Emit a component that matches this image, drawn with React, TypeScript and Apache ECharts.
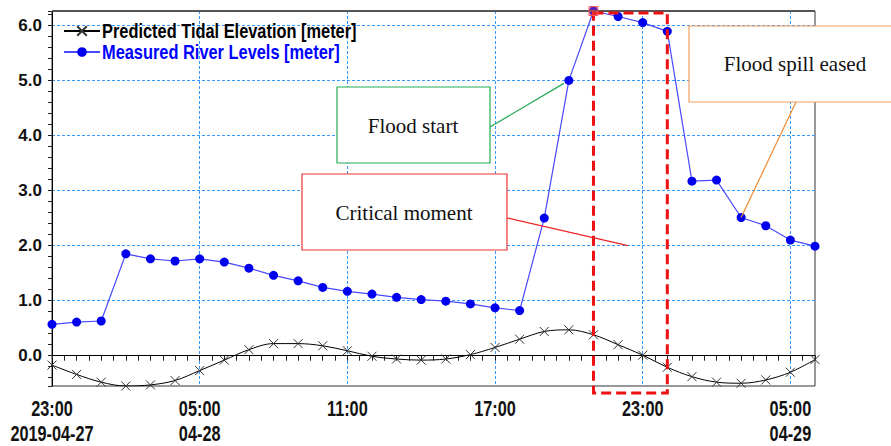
import React, { useEffect, useRef } from "react";
import * as echarts from "echarts";

// Hourly time stamps: 2019-04-27 23:00 ... 2019-04-29 06:00
const timeLabels = [
  "23:00",
  "00:00", "01:00", "02:00", "03:00", "04:00", "05:00", "06:00", "07:00",
  "08:00", "09:00", "10:00", "11:00", "12:00", "13:00", "14:00", "15:00",
  "16:00", "17:00", "18:00", "19:00", "20:00", "21:00", "22:00", "23:00",
  "00:00", "01:00", "02:00", "03:00", "04:00", "05:00", "06:00",
];
// Date line for the labelled ticks (every 6 hours)
const tickDates = ["2019-04-27", "04-28", "", "", "", "04-29"];
const LABEL_STEP = 6;

const measuredRiver = [
  0.57, 0.61, 0.63, 1.85, 1.76, 1.72, 1.76, 1.70, 1.59, 1.46, 1.36, 1.24,
  1.17, 1.12, 1.06, 1.02, 0.99, 0.94, 0.87, 0.82, 2.50, 5.00, 6.26, 6.16,
  6.05, 5.89, 3.17, 3.19, 2.51, 2.36, 2.10, 1.99,
];
const predictedTide = [
  -0.17, -0.34, -0.48, -0.55, -0.53, -0.45, -0.27, -0.08, 0.11, 0.22, 0.22,
  0.18, 0.09, -0.01, -0.06, -0.08, -0.06, 0.02, 0.15, 0.30, 0.44, 0.47, 0.38,
  0.20, 0.01, -0.21, -0.38, -0.48, -0.50, -0.44, -0.30, -0.07,
];

const seriesNames = [
  "Predicted Tidal Elevation [meter]",
  "Measured River Levels [meter]",
];
const seriesTextColors = ["#000000", "#0000ff"];
const annotations = ["Flood start", "Critical moment", "Flood spill eased"];
// indices of the hours the annotations refer to
const floodStartIdx = 21;
const spillEasedIdx = 28;
const criticalStartIdx = 22;
const criticalEndIdx = 25;

const Y_MIN = -0.55;
const Y_MAX = 6.26;

const SANS = '"Liberation Sans", Arial, sans-serif';
const SERIF = '"Liberation Serif", "Times New Roman", serif';

export default function App() {
  const ref = useRef<HTMLDivElement>(null);

  useEffect(() => {
    if (!ref.current) return;
    const chart = echarts.init(ref.current, undefined, { renderer: "svg" });
    const n = timeLabels.length;
    const xMax = n - 1;

    const gridColor = "#3399ff";

    chart.setOption({
      animation: false,
      backgroundColor: "#ffffff",
      grid: {
        left: 52,
        top: 11,
        right: 76,
        bottom: 60,
        show: true,
        borderColor: "#333",
        borderWidth: 1,
        backgroundColor: "transparent",
      },
      legend: {
        orient: "vertical",
        left: 63,
        top: 21,
        padding: 0,
        itemGap: 1,
        itemWidth: 36,
        itemHeight: 12,
        data: seriesNames,
        formatter: () => " ",
        textStyle: { fontSize: 20, lineHeight: 20 },
      },
      xAxis: [
        {
          type: "value",
          min: 0,
          max: xMax,
          interval: 0.5,
          position: "bottom",
          axisLine: { show: true, lineStyle: { color: "#000", width: 1 } },
          axisTick: { show: true, length: 5, lineStyle: { color: "#222" } },
          axisLabel: { show: false },
          splitLine: { show: false },
        },
        {
          type: "value",
          min: 0,
          max: xMax,
          interval: LABEL_STEP,
          position: "bottom",
          axisLine: { show: false },
          axisTick: { show: false },
          axisLabel: { show: false },
          splitLine: {
            show: true,
            showMaxLine: false,
            lineStyle: { color: gridColor, type: [3, 2], width: 1 },
          },
        },
      ],
      yAxis: {
        type: "value",
        min: Y_MIN,
        max: Y_MAX,
        splitNumber: 7,
        axisLine: { show: true, lineStyle: { color: "#000", width: 1 } },
        axisTick: { show: true, length: 4, lineStyle: { color: "#222" } },
        minorTick: { show: true, splitNumber: 5, length: 4, lineStyle: { color: "#222" } },
        axisLabel: {
          margin: 10,
          showMinLabel: false,
          showMaxLabel: false,
          fontFamily: SANS,
          fontWeight: "bold",
          fontSize: 17,
          color: "#111",
          formatter: (v: number) =>
            Math.abs(v - Math.round(v)) < 1e-6 ? v.toFixed(1) : "",
        },
        splitLine: {
          show: true,
          showMinLine: false,
          showMaxLine: false,
          lineStyle: { color: gridColor, type: [3, 2], width: 1 },
        },
      },
      series: [
        {
          name: seriesNames[0],
          type: "line",
          xAxisIndex: 0,
          smooth: 0.35,
          data: predictedTide.map((v, i) => [i, v]),
          symbol: "path://M0,0L10,10M10,0L0,10",
          symbolSize: 9,
          itemStyle: { color: "rgba(0,0,0,0)", borderColor: "#333", borderWidth: 1 },
          lineStyle: { color: "#000", width: 1 },
          z: 3,
        },
        {
          name: seriesNames[1],
          type: "line",
          xAxisIndex: 0,
          data: measuredRiver.map((v, i) => [i, v]),
          symbol: "circle",
          symbolSize: 9,
          itemStyle: { color: "#0000ee" },
          lineStyle: { color: "#4848ff", width: 1.2 },
          z: 4,
        },
      ],
    });

    const px = (x: number, y: number) =>
      chart.convertToPixel({ xAxisIndex: 0, yAxisIndex: 0 }, [x, y]) as number[];

    const gridTop = px(0, Y_MAX)[1];
    const gridBottom = px(0, Y_MIN)[1];
    const gridLeft = px(0, Y_MAX)[0];
    const gridRight = px(xMax, Y_MAX)[0];
    const pStart = px(floodStartIdx, measuredRiver[floodStartIdx]);
    const pEased = px(spillEasedIdx, measuredRiver[spillEasedIdx]);
    const pCritL = px(criticalStartIdx, measuredRiver[criticalStartIdx]);
    const pCritR = px(criticalEndIdx, measuredRiver[criticalEndIdx]);
    const pCritTarget = px(criticalStartIdx + 1.4, 2.0);

    const boxText = (text: string, x: number, y: number) => ({
      type: "text",
      x,
      y,
      style: {
        text,
        fontFamily: SERIF,
        fontSize: 21,
        fill: "#111",
        align: "center",
        verticalAlign: "middle",
      },
      z: 101,
    });

    // narrow bold labels (condensed look of the original)
    const narrowText = (text: string, x: number, y: number, color: string, size: number, sx: number, align = "center") => ({
      type: "text",
      x,
      y,
      scaleX: sx,
      style: {
        text,
        fontFamily: SANS,
        fontWeight: "bold",
        fontSize: size,
        fill: color,
        align,
        verticalAlign: "middle",
      },
      z: 120,
    });

    const xLabelEls: any[] = [];
    for (let i = 0; i < xMax; i += LABEL_STEP) {
      const x = px(i, Y_MIN)[0];
      xLabelEls.push(narrowText(timeLabels[i], x, gridBottom + 22, "#111", 22, 0.74));
      const d = tickDates[i / LABEL_STEP];
      if (d) xLabelEls.push(narrowText(d, x, gridBottom + 47, "#111", 22, 0.74));
    }

    const legendTextEls = seriesNames.map((name, k) =>
      narrowText(name, 102, 31 + k * 21, seriesTextColors[k], 20, 0.82, "left")
    );

    chart.setOption({
      graphic: [
        ...xLabelEls,
        ...legendTextEls,
        // heavier top frame line
        {
          type: "line",
          shape: { x1: gridLeft, y1: gridTop, x2: gridRight, y2: gridTop },
          style: { stroke: "#555", lineWidth: 2 },
          z: 50,
        },
        // Flood start box
        {
          type: "rect",
          shape: { x: 337, y: 87, width: 153, height: 76 },
          style: { fill: "#fff", stroke: "#22aa55", lineWidth: 1.2 },
          z: 100,
        },
        boxText(annotations[0], 413, 126),
        {
          type: "line",
          shape: { x1: 490, y1: 127, x2: pStart[0] - 5, y2: pStart[1] + 3 },
          style: { stroke: "#22aa55", lineWidth: 1.2 },
          z: 100,
        },
        // Critical moment box
        {
          type: "rect",
          shape: { x: 302, y: 174, width: 205, height: 76 },
          style: { fill: "#fff", stroke: "#ee3333", lineWidth: 1.2 },
          z: 100,
        },
        boxText(annotations[1], 404, 213),
        {
          type: "line",
          shape: { x1: 507, y1: 218, x2: pCritTarget[0], y2: pCritTarget[1] },
          style: { stroke: "#ee2222", lineWidth: 1.2 },
          z: 100,
        },
        // Flood spill eased box
        {
          type: "rect",
          shape: { x: 689, y: 26, width: 220, height: 76 },
          style: { fill: "#fff", stroke: "#f0a060", lineWidth: 1.2 },
          z: 100,
        },
        boxText(annotations[2], 795, 64),
        {
          type: "line",
          shape: { x1: 796, y1: 102, x2: pEased[0], y2: pEased[1] },
          style: { stroke: "#f08a30", lineWidth: 1.2 },
          z: 100,
        },
        // Critical window (dashed)
        {
          type: "rect",
          shape: {
            x: pCritL[0],
            y: gridTop + 2,
            width: pCritR[0] - pCritL[0],
            height: gridBottom + 7 - (gridTop + 2),
          },
          style: { fill: "none", stroke: "#ee1111", lineWidth: 3, lineDash: [10, 5] },
          z: 90,
        },
        // highlight at the peak
        {
          type: "rect",
          shape: { x: pCritL[0] - 4.5, y: pCritL[1] - 4.5, width: 9, height: 9 },
          style: { fill: "rgba(255,80,80,0.35)", stroke: "#ff5555", lineWidth: 1 },
          z: 91,
        },
      ],
    });

    return () => chart.dispose();
  }, []);

  return (
    <div
      ref={ref}
      style={{ position: "fixed", left: 0, top: 0, width: 891, height: 446 }}
    />
  );
}
